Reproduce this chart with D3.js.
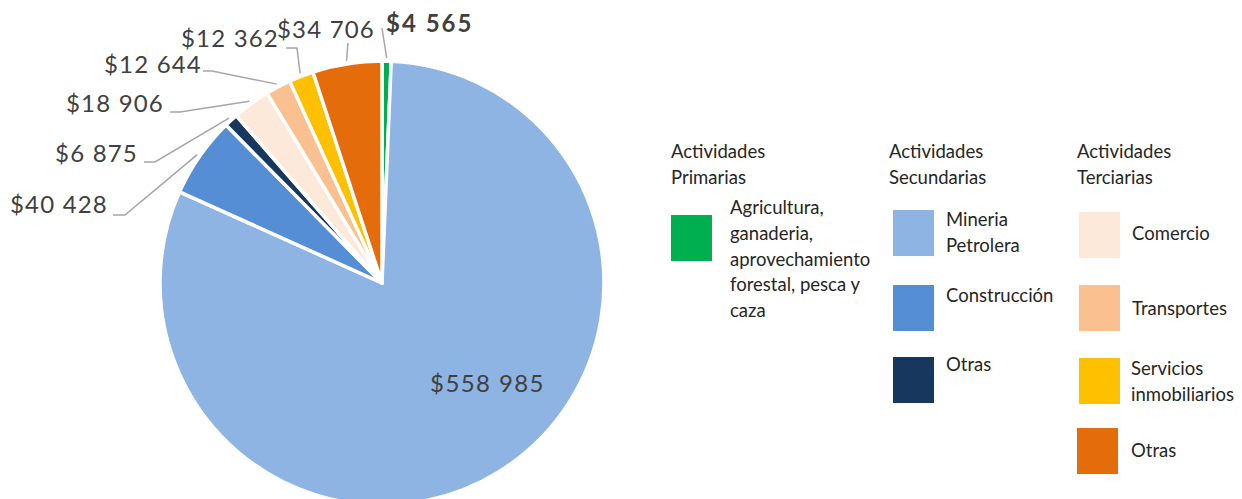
<!DOCTYPE html>
<html>
<head>
<meta charset="utf-8">
<script src="https://cdn.jsdelivr.net/npm/d3@7"></script>
<style>
  body { margin: 0; background: #fff; }
  svg { display: block; }
</style>
</head>
<body>
<div id="pie"></div>
<script>
// Data
const sectors = ["Agricultura", "Mineria Petrolera", "Construcción", "Otras (secundarias)",
  "Comercio", "Transportes", "Servicios inmobiliarios", "Otras (terciarias)"];
const amounts = [4565, 558985, 40428, 6875, 18906, 12644, 12362, 34706];
const sectorColors = ["#00b050", "#8eb4e3", "#558ed5", "#17375e",
  "#fde9d9", "#fac090", "#ffc000", "#e46c0a"];

const legendTitles = [["Actividades", "Primarias"], ["Actividades", "Secundarias"], ["Actividades", "Terciarias"]];
const legendLabels = [
  ["Agricultura,", "ganaderia,", "aprovechamiento", "forestal, pesca y", "caza"],
  ["Mineria", "Petrolera"], ["Construcción"], ["Otras"],
  ["Comercio"], ["Transportes"], ["Servicios", "inmobiliarios"], ["Otras"]
];
const legendGroupOf = [0, 1, 1, 1, 2, 2, 2, 2];

const drawPie = () => {

  /*******************************/
  /*    Declare the constants    */
  /*******************************/
  const width = 1242;
  const height = 499;
  const cx = 382;
  const cy = 283;
  const radius = 222;
  const textColor = "#404040";
  const leaderColor = "#a6a6a6";

  // label layout: leader elbow, leader end, text anchor point
  const labelLayout = [
    {elbow: [382, 28], end: [382, 28], tx: 386, ty: 32, anchor: "start", bold: true},
    null,
    {elbow: [125, 215], end: [113, 215], tx: 108, ty: 213, anchor: "end"},
    {elbow: [155, 162], end: [144, 162], tx: 138, ty: 162, anchor: "end"},
    {elbow: [180, 112], end: [170, 112], tx: 164, ty: 112, anchor: "end"},
    {elbow: [212, 71], end: [203, 71], tx: 202, ty: 73, anchor: "end"},
    {elbow: [297, 48], end: [286, 48], tx: 279, ty: 47, anchor: "end"},
    {elbow: [348, 43], end: [348, 43], tx: 375, ty: 38, anchor: "end"}
  ];

  // legend layout
  const titleX = [671, 889, 1077];
  const titleY = 152;
  const swatchX = [671, 893, 893, 893, 1079, 1079, 1079, 1077];
  const swatchY = [215, 210, 285, 357, 212, 285, 358, 428];
  const swatchW = 41;
  const swatchH = 46;
  const itemTextX = [730, 946, 946, 946, 1132, 1132, 1131, 1131];
  const itemTextY = [208, 220, 296, 365, 234, 309, 369, 451];
  const lineH = 25.6;

  const fmt = d3.formatLocale({decimal: ",", thousands: " ", grouping: [3], currency: ["$", ""]}).format("$,");


  /*******************************/
  /*    Append the containers    */
  /*******************************/
  const svg = d3.select("#pie")
    .append("svg")
      .attr("width", width)
      .attr("height", height)
      .attr("viewBox", `0, 0, ${width}, ${height}`);

  const pieGroup = svg
    .append("g")
      .attr("transform", `translate(${cx}, ${cy})`);


  /*****************************/
  /*    Generate the slices    */
  /*****************************/
  const pie = d3.pie()
    .sort(null)
    .value(d => d);
  const slices = pie(amounts);

  const arc = d3.arc()
    .innerRadius(0)
    .outerRadius(radius);
  const leaderArc = d3.arc()
    .innerRadius(radius + 3)
    .outerRadius(radius + 3);

  pieGroup
    .selectAll(".slice")
    .data(slices)
    .join("path")
      .attr("class", "slice")
      .attr("d", arc)
      .attr("fill", (d, i) => sectorColors[i])
      .attr("stroke", "#fff")
      .attr("stroke-width", 3.5)
      .attr("stroke-linejoin", "round");


  /****************************/
  /*    Add the labels        */
  /****************************/
  const outside = slices
    .map((d, i) => ({d, i, lay: labelLayout[i]}))
    .filter(o => o.lay);

  svg
    .selectAll(".leader")
    .data(outside)
    .join("polyline")
      .attr("class", "leader")
      .attr("points", o => {
        const [sx, sy] = leaderArc.centroid(o.d);
        return [[sx + cx, sy + cy], o.lay.elbow, o.lay.end].join(" ");
      })
      .attr("fill", "none")
      .attr("stroke", leaderColor)
      .attr("stroke-width", 1.5);

  svg
    .selectAll(".value-label")
    .data(outside)
    .join("text")
      .attr("class", "value-label")
      .attr("x", o => o.lay.tx)
      .attr("y", o => o.lay.ty)
      .attr("text-anchor", o => o.lay.anchor)
      .attr("font-family", "Lato, sans-serif")
      .attr("font-size", 24)
      .attr("letter-spacing", o => o.lay.bold ? 2 : 1.2)
      .attr("font-weight", o => o.lay.bold ? 700 : 400)
      .attr("fill", textColor)
      .text(o => fmt(amounts[o.i]));

  // label inside the big slice
  const big = slices[1];
  const innerAngle = big.startAngle + 0.45 * (big.endAngle - big.startAngle);
  const innerR = 146;
  pieGroup
    .append("text")
      .attr("x", innerR * Math.sin(innerAngle))
      .attr("y", -innerR * Math.cos(innerAngle))
      .attr("dy", "0.35em")
      .attr("text-anchor", "middle")
      .attr("font-family", "Lato, sans-serif")
      .attr("font-size", 24)
      .attr("letter-spacing", 1.4)
      .attr("fill", textColor)
      .text(fmt(amounts[1]));


  /**************************/
  /*     Add the legend     */
  /**************************/
  const legend = svg.append("g")
    .attr("font-family", "Lato, sans-serif")
    .attr("font-size", 18.5)
    .attr("fill", "#262626");

  legendTitles.forEach((lines, g) => {
    legend.append("text")
      .selectAll("tspan")
      .data(lines)
      .join("tspan")
        .attr("x", titleX[g])
        .attr("y", (d, k) => titleY + k * lineH)
        .attr("dy", "0.35em")
        .text(d => d);
  });

  legend
    .selectAll(".swatch")
    .data(sectors)
    .join("rect")
      .attr("class", "swatch")
      .attr("x", (d, i) => swatchX[i])
      .attr("y", (d, i) => swatchY[i])
      .attr("width", swatchW)
      .attr("height", swatchH)
      .attr("fill", (d, i) => sectorColors[i]);

  legend
    .selectAll(".item-label")
    .data(legendLabels)
    .join("text")
      .attr("class", "item-label")
      .attr("data-group", (d, i) => legendGroupOf[i])
    .selectAll("tspan")
    .data((lines, i) => lines.map(l => ({l, i})))
    .join("tspan")
      .attr("x", t => itemTextX[t.i])
      .attr("y", (t, k) => itemTextY[t.i] + k * lineH)
      .attr("dy", "0.35em")
      .text(t => t.l);
};

drawPie();
</script>
</body>
</html>
